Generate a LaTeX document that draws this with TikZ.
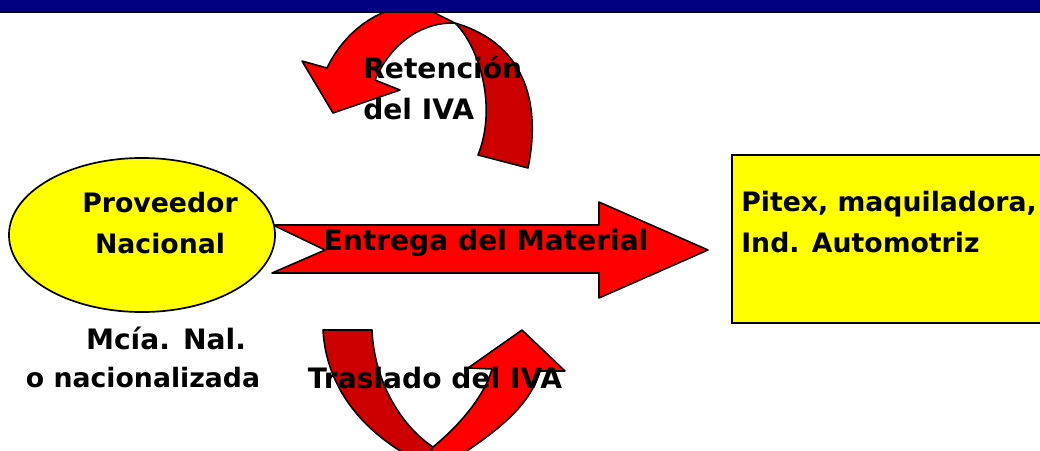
\documentclass[tikz,border=0pt]{standalone}
\usepackage{fontspec}
\setmainfont{DejaVu Sans}
\usepackage{tikz}
\usetikzlibrary{shapes.geometric, calc}

\definecolor{barBlue}{RGB}{0,0,128}
\definecolor{frontRed}{RGB}{255,0,0}
\definecolor{backRed}{RGB}{204,0,0}
\definecolor{boxYellow}{RGB}{255,255,0}

\begin{document}
\begin{tikzpicture}[x=0.025cm, y=-0.025cm]
            \tikzset{
                label text/.style={
                    font=\fontsize{20}{29}\selectfont\bfseries,
                    inner sep=0pt
                },
                small label text/.style={
                    font=\fontsize{19}{29}\selectfont\bfseries,
                    inner sep=0pt
                },
                front ribbon/.style={
                    fill=frontRed, draw=black, line width=1.1pt, line join=round
                },
                back ribbon/.style={
                    fill=backRed, draw=black, line width=1.1pt, line join=round
                },
                yellow shape/.style={
                    fill=boxYellow, draw=black
                }
            }

            \useasboundingbox (0,0) rectangle (1040,450);
            \clip (0,0) rectangle (1040,450);

            % --- TOP: curved arrow (Retencion del IVA) ---
            % back part going down on the right
            \draw[back ribbon]
                (455,23) .. controls (478,45) and (498,105) .. (478,155)
                -- (528,168) .. controls (540,110) and (530,45) .. (455,23) -- cycle;
            % front part with the head pointing down-left
            \draw[front ribbon]
                (455,23) .. controls (420,22) and (390,45) .. (375,80)
                -- (400,90) -- (333,113) -- (302,61) -- (327,68)
                .. controls (345,30) and (385,0) .. (425,8) -- cycle;

            % --- BOTTOM: curved arrow (Traslado del IVA) ---
            \draw[back ribbon]
                (323,330) -- (372,330) .. controls (374,380) and (400,425) .. (433,447)
                -- (440,462) -- (420,462) .. controls (360,432) and (326,385) .. (323,330) -- cycle;
            \draw[front ribbon]
                (433,447) .. controls (460,425) and (485,395) .. (492,369)
                -- (468,368) -- (522,330) -- (565,371) -- (540,371)
                .. controls (530,405) and (500,430) .. (450,462) -- (425,462) -- cycle;

            % --- MIDDLE: the straight block arrow ---
            \draw[front ribbon]
                (273,225) -- (599,225) -- (599,202) -- (708,250)
                -- (599,298) -- (599,273) -- (272,273) -- (325,250) -- cycle;

            % --- Nodes ---
            \node[yellow shape, ellipse, line width=1.2pt, inner sep=0pt,
                  minimum width=6.65cm, minimum height=3.85cm] (prov) at (142,235) {};
            \node[yellow shape, rectangle, line width=1.4pt, anchor=north west, inner sep=0pt,
                  minimum width=8.5cm, minimum height=4.2cm] (dest) at (731,154) {};

            % Labels
            \node[small label text, align=center] (provtxt) at (160,223) {Proveedor\\Nacional};
            \node[label text] (mcia) at (166,338) {Mcía. Nal.};
            \node[small label text] (nacz) at (143,378) {o nacionalizada};
            \node[label text] (entrega) at (486,243) {Entrega del Material};
            \node[label text, align=left, anchor=west] (retencion) at (363,88) {Retención\\del IVA};
            \node[label text] (traslado) at (435,378) {Traslado del IVA};
            \node[small label text, align=left, anchor=west] (pitex) at (741,222) {Pitex, maquiladora,\\Ind. Automotriz};

            % --- Title bar ---
            \fill[barBlue] (0,0) rectangle (1040,12);
            \draw[line width=1.2pt] (0,12.5) -- (1040,12.5);
\end{tikzpicture}
\end{document}
